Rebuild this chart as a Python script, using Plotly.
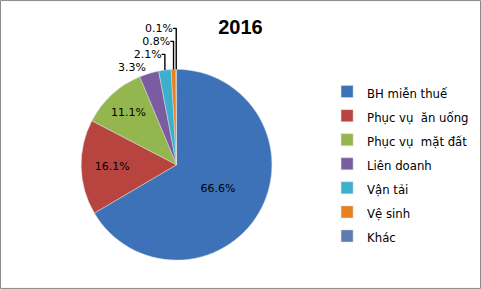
import plotly.graph_objects as go

labels = ["BH miễn thuế", "Phục vụ  ăn uống", "Phục vụ  mặt đất", "Liên doanh", "Vận tải", "Vệ sinh", "Khác"]
values = [66.6, 16.1, 11.1, 3.3, 2.1, 0.8, 0.1]
colors = ["#3D72B8", "#B84440", "#93B64F", "#7B5CA0", "#3BB0CC", "#E87F21", "#5D7BB0"]
positions = ["inside", "inside", "inside", "outside", "outside", "outside", "outside"]

legend_labels = ['<span style="font-size:11.7px">%s</span>' % s for s in labels]

fig = go.Figure(go.Pie(
    labels=legend_labels, values=values, sort=False, direction="clockwise", rotation=0,
    marker=dict(colors=colors, line=dict(color="#DDDDDD", width=0.5)),
    texttemplate="%{value:.1f}%", textposition=positions,
    textfont=dict(family="DejaVu Sans", size=11, color="#000000"),
    insidetextorientation="horizontal",
    domain=dict(x=[0.122, 0.612], y=[0.10, 0.76]),
))
fig.update_layout(
    width=481, height=289, margin=dict(l=0, r=0, t=0, b=0),
    paper_bgcolor="white",
    title=dict(text="<b>2016</b>", x=0.5, y=0.905, xanchor="center", yanchor="middle",
               font=dict(family="Liberation Sans", size=20, color="#000000")),
    legend=dict(x=0.68, y=0.742, xanchor="left", yanchor="top",
                font=dict(family="DejaVu Sans", size=16.2, color="#000000"),
                itemwidth=30, tracegroupgap=0, bgcolor="rgba(0,0,0,0)"),
    shapes=[dict(type="rect", xref="paper", yref="paper", x0=0.001, y0=0.002, x1=0.999, y1=0.998,
                 line=dict(color="#888888", width=1))],
)
fig.write_html("out.html")
